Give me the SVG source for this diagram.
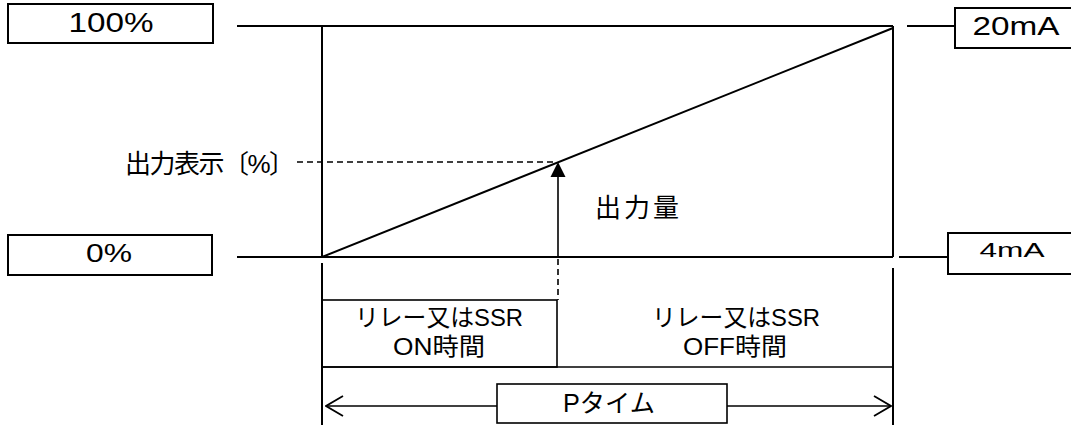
<svg xmlns="http://www.w3.org/2000/svg" width="1071" height="425" viewBox="0 0 1071 425">
<style>
.ln{stroke:#000;stroke-width:2;fill:none}
.thin{stroke:#000;stroke-width:1.6;fill:none}
.box{stroke:#000;stroke-width:2;fill:#fff}
.dash{stroke:#000;stroke-width:1.6;fill:none;stroke-dasharray:6 4}
.t{font-family:"Liberation Sans","Noto Sans CJK JP",sans-serif;fill:#000;text-anchor:middle}
</style>
<defs>
<marker id="open" viewBox="0 0 20 24" refX="19" refY="12" markerWidth="20" markerHeight="24" markerUnits="userSpaceOnUse" orient="auto-start-reverse">
<path d="M2,2 L19,12 L2,22" stroke="#000" stroke-width="1.8" fill="none"/>
</marker>
</defs>
<rect width="1071" height="425" fill="#fff"/>
<g id="connectors">
<line class="ln" x1="237" y1="26" x2="893" y2="26"/>
<line class="ln" x1="907" y1="26" x2="955" y2="26"/>
<line class="ln" x1="237" y1="257" x2="893" y2="257"/>
<line class="ln" x1="899" y1="257" x2="948" y2="257"/>
<line class="ln" x1="322" y1="26" x2="322" y2="257"/>
<line class="ln" x1="322" y1="263" x2="322" y2="425"/>
<line class="ln" x1="893" y1="26" x2="893" y2="257"/>
<line class="ln" x1="893" y1="268" x2="893" y2="425"/>
<line class="ln" x1="322" y1="257" x2="893" y2="28"/>
<line class="thin" x1="322" y1="367" x2="893" y2="367"/>
<line class="dash" x1="297" y1="162" x2="556" y2="162"/>
<line class="thin" x1="558" y1="257" x2="558" y2="175"/>
<polygon points="558,162 550.5,177 565.5,177" fill="#000"/>
<line class="dash" x1="558" y1="259" x2="558" y2="300"/>
<line class="thin" x1="326" y1="406" x2="497" y2="406" marker-start="url(#open)"/>
<line class="thin" x1="727" y1="406" x2="891" y2="406" marker-end="url(#open)"/>
</g>
<g id="n100">
<rect class="box" x="8" y="4" width="205" height="39"/>
<text class="t" x="111" y="32" font-size="27" textLength="85" lengthAdjust="spacingAndGlyphs">100%</text>
</g>
<g id="n0">
<rect class="box" x="8" y="235" width="204" height="40"/>
<text class="t" x="109" y="262" font-size="26" textLength="46" lengthAdjust="spacingAndGlyphs">0%</text>
</g>
<g id="n20mA">
<rect class="box" x="955" y="8" width="130" height="40"/>
<text class="t" x="1016" y="35" font-size="25" textLength="87" lengthAdjust="spacingAndGlyphs">20mA</text>
</g>
<g id="n4mA">
<rect class="box" x="948" y="233" width="130" height="41"/>
<text class="t" x="1012" y="257" font-size="21" textLength="65" lengthAdjust="spacingAndGlyphs">4mA</text>
</g>
<g id="output-display">
<text class="t" x="125" y="173" font-size="26" style="text-anchor:start" textLength="170" lengthAdjust="spacing">出力表示〔%〕</text>
</g>
<g id="output-amount">
<text class="t" x="637" y="217" font-size="26" textLength="84" lengthAdjust="spacing">出力量</text>
</g>
<g id="on-time">
<rect class="thin" x="322" y="300" width="235" height="67"/>
<text class="t" x="439" y="326" font-size="24" textLength="168" lengthAdjust="spacingAndGlyphs">リレー又はSSR</text>
<text class="t" x="439" y="355" font-size="24" textLength="92" lengthAdjust="spacingAndGlyphs">ON時間</text>
</g>
<g id="off-time">
<text class="t" x="736" y="326" font-size="24" textLength="168" lengthAdjust="spacingAndGlyphs">リレー又はSSR</text>
<text class="t" x="735" y="355" font-size="24" textLength="104" lengthAdjust="spacingAndGlyphs">OFF時間</text>
</g>
<g id="p-time">
<rect class="thin" x="497" y="384" width="230" height="39"/>
<text class="t" x="609" y="412" font-size="25" textLength="92" lengthAdjust="spacingAndGlyphs">Pタイム</text>
</g>
</svg>
